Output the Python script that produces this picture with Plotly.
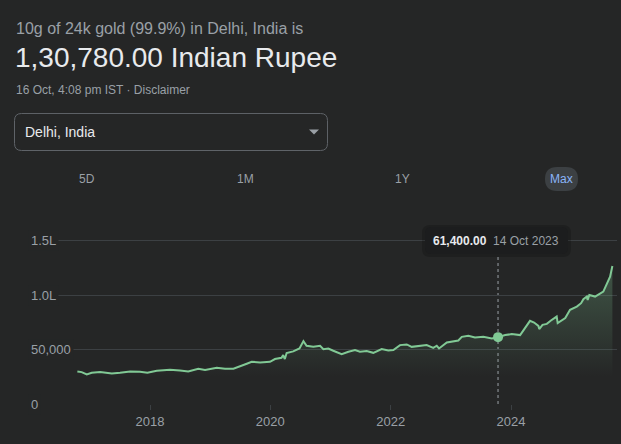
import plotly.graph_objects as go

# ---------------- data ----------------
dates = [
    "2016-10-17", "2016-11-12", "2016-12-13", "2017-01-12", "2017-03-04", "2017-04-13",
    "2017-05-14", "2017-07-03", "2017-09-02", "2017-11-01", "2017-12-16", "2018-02-11",
    "2018-05-02", "2018-07-02", "2018-08-21", "2018-10-21", "2018-12-01", "2019-02-10",
    "2019-04-01", "2019-05-22", "2019-06-21", "2019-08-11", "2019-09-10", "2019-10-31",
    "2019-12-30", "2020-01-29", "2020-03-09", "2020-03-19", "2020-03-29", "2020-04-09",
    "2020-05-19", "2020-06-26", "2020-07-20", "2020-08-08", "2020-09-18", "2020-10-29",
    "2020-11-18", "2020-12-18", "2021-01-17", "2021-03-09", "2021-04-19", "2021-05-29",
    "2021-06-28", "2021-08-08", "2021-09-17", "2021-11-07", "2021-12-17", "2022-01-17",
    "2022-02-26", "2022-04-08", "2022-05-08", "2022-06-28", "2022-08-07", "2022-09-16",
    "2022-10-07", "2022-10-21", "2022-12-07", "2023-02-15", "2023-03-08", "2023-04-17",
    "2023-05-27", "2023-07-17", "2023-09-06", "2023-10-14", "2023-11-26", "2024-01-05",
    "2024-02-25", "2024-04-25", "2024-05-20", "2024-06-15", "2024-06-20", "2024-07-10",
    "2024-08-05", "2024-08-30", "2024-10-04", "2024-10-10", "2024-11-13", "2024-11-25",
    "2024-12-24", "2025-02-03", "2025-03-01", "2025-03-15", "2025-04-05", "2025-04-10",
    "2025-04-20", "2025-05-25", "2025-07-14", "2025-08-04", "2025-08-24", "2025-09-07",
]
prices = [
    29900, 29300, 27100, 28700, 29300, 28700,
    28100, 28700, 29900, 29600, 28700, 30500,
    31500, 30800, 29900, 32400, 31200, 33300,
    32400, 32400, 33900, 37000, 38800, 38200,
    38800, 41300, 42500, 44900, 41300, 46800,
    48300, 51000, 57800, 53500, 52500, 53500,
    50400, 51000, 48900, 45800, 48000, 49500,
    48000, 48600, 47000, 50400, 49200, 49500,
    54100, 54700, 52500, 53200, 54100, 51600,
    53500, 51000, 56500, 58300, 61700, 62600,
    61100, 61700, 60200, 61400, 63300, 64200,
    63300, 76400, 74800, 71800, 68800, 72700,
    73600, 76700, 80300, 74300, 77900, 78900,
    86500, 89500, 92600, 96300, 98700, 95600,
    100200, 98700, 103300, 111000, 117000, 126800,
]
y_tick_vals = [0, 50000, 100000, 150000]
y_tick_text = ["0", "50,000", "1.0L", "1.5L"]
x_tick_vals = ["2018-01-01", "2020-01-01", "2022-01-01", "2024-01-01"]
x_tick_text = ["2018", "2020", "2022", "2024"]
sel_date = "2023-10-14"
sel_label = "14 Oct 2023"
sel_price = 61400
range_buttons = ["5D", "1M", "1Y", "Max"]

# ---------------- style / geometry ----------------
BG = "#252626"
GRID = "#3c4043"
GREEN = "#81c995"
GREY = "#9aa0a6"
WHITE = "#e8eaed"
FONT = "Arial, Liberation Sans, sans-serif"

W, H = 621, 444
L, R, T, B = 37, 4, 239, 40
PW, PH = W - L - R, H - T - B
Y_TOP = 150000 * PH / 163.3  # keeps the 1.5L line just inside the plot


def px(x):
    return (x - L) / PW


def py(y):
    return (H - B - y) / PH


def rrect(x0, y0, x1, y1, r):
    p = lambda x, y: f"{px(x):.5f},{py(y):.5f}"
    return (f"M {p(x0 + r, y0)} L {p(x1 - r, y0)} Q {p(x1, y0)} {p(x1, y0 + r)} "
            f"L {p(x1, y1 - r)} Q {p(x1, y1)} {p(x1 - r, y1)} "
            f"L {p(x0 + r, y1)} Q {p(x0, y1)} {p(x0, y1 - r)} "
            f"L {p(x0, y0 + r)} Q {p(x0, y0)} {p(x0 + r, y0)} Z")


fig = go.Figure()
fig.add_trace(go.Scatter(
    x=dates, y=prices, mode="lines",
    line=dict(color=GREEN, width=2),
    fill="tozeroy",
    fillgradient=dict(type="vertical",
                      colorscale=[[0, "rgba(129,201,149,0)"], [1, "rgba(129,201,149,0.30)"]],
                      start=25000, stop=130000),
    hoverinfo="skip",
))
fig.add_trace(go.Scatter(
    x=[sel_date], y=[sel_price], mode="markers",
    marker=dict(color=GREEN, size=10),
    hoverinfo="skip",
))

shapes = []
shapes.append(dict(type="line", xref="x", yref="paper", x0=sel_date, x1=sel_date,
                   y0=0, y1=py(256), line=dict(color=GREY, width=1, dash="dot"), layer="below"))
shapes.append(dict(type="path", xref="paper", yref="paper", path=rrect(422, 225, 571, 257, 8),
                   fillcolor="rgba(0,0,0,0.18)", line=dict(width=0)))
shapes.append(dict(type="path", xref="paper", yref="paper", path=rrect(425, 227, 568, 254, 6),
                   fillcolor="#1c1d1e", line=dict(width=0)))
shapes.append(dict(type="path", xref="paper", yref="paper", path=rrect(14.5, 113.5, 327.5, 150.5, 7),
                   fillcolor="rgba(0,0,0,0)", line=dict(color="#5f6368", width=1)))
shapes.append(dict(type="path", xref="paper", yref="paper",
                   path=f"M {px(309)},{py(129.5)} L {px(319)},{py(129.5)} L {px(314)},{py(134.5)} Z",
                   fillcolor=GREY, line=dict(width=0)))
shapes.append(dict(type="path", xref="paper", yref="paper", path=rrect(545, 167, 578, 191, 12),
                   fillcolor="#3c4043", line=dict(width=0)))

ann = []
ann.append(dict(x=px(14), y=py(29), text="10g of 24k gold (99.9%) in Delhi, India is",
                font=dict(size=16, color=GREY, family=FONT)))
ann.append(dict(x=px(13), y=py(58), text="1,30,780.00 Indian Rupee",
                font=dict(size=28, color=WHITE, family=FONT)))
ann.append(dict(x=px(14), y=py(90), text="16 Oct, 4:08 pm IST · Disclaimer",
                font=dict(size=12, color=GREY, family=FONT)))
ann.append(dict(x=px(23), y=py(132), text="Delhi, India",
                font=dict(size=14, color=WHITE, family=FONT)))
for a in ann:
    a.update(xref="paper", yref="paper", xanchor="left", yanchor="middle", showarrow=False)

btn_x = [86.7, 245.5, 402.8, 561.4]
for name, bx in zip(range_buttons, btn_x):
    ann.append(dict(x=px(bx), y=py(179), xref="paper", yref="paper", text=name,
                    showarrow=False, xanchor="center", yanchor="middle",
                    font=dict(size=12, color="#8ab4f8" if name == "Max" else GREY, family=FONT)))

for v, t in zip(y_tick_vals, y_tick_text):
    ann.append(dict(x=px(28), y=v, xref="paper", yref="y", text=t, showarrow=False,
                    xanchor="left", yanchor="middle", bgcolor=BG, borderpad=2,
                    font=dict(size=13, color=GREY, family=FONT)))

ann.append(dict(x=px(496.5), y=py(240.5), xref="paper", yref="paper",
                text=f"<b>{sel_price:,.2f}</b>&nbsp;&nbsp;<span style='color:{GREY}'>{sel_label}</span>",
                showarrow=False, xanchor="center", yanchor="middle",
                font=dict(size=12, color=WHITE, family=FONT)))

fig.update_layout(
    width=W, height=H,
    margin=dict(l=L, r=R, t=T, b=B, pad=0),
    paper_bgcolor=BG, plot_bgcolor=BG,
    showlegend=False, hovermode=False,
    shapes=shapes, annotations=ann,
    xaxis=dict(type="date", range=["2016-02-15", "2025-10-05"],
               tickvals=x_tick_vals, ticktext=x_tick_text,
               ticks="outside", ticklen=5, tickcolor=GRID, tickwidth=1,
               showgrid=False, zeroline=False, showline=False, fixedrange=True,
               tickfont=dict(size=13, color=GREY, family=FONT)),
    yaxis=dict(range=[0, Y_TOP], tickvals=y_tick_vals, showticklabels=False,
               showgrid=True, gridcolor=GRID, gridwidth=1, zeroline=False,
               showline=False, fixedrange=True),
)

fig.write_html("out.html", config={"displayModeBar": False})
